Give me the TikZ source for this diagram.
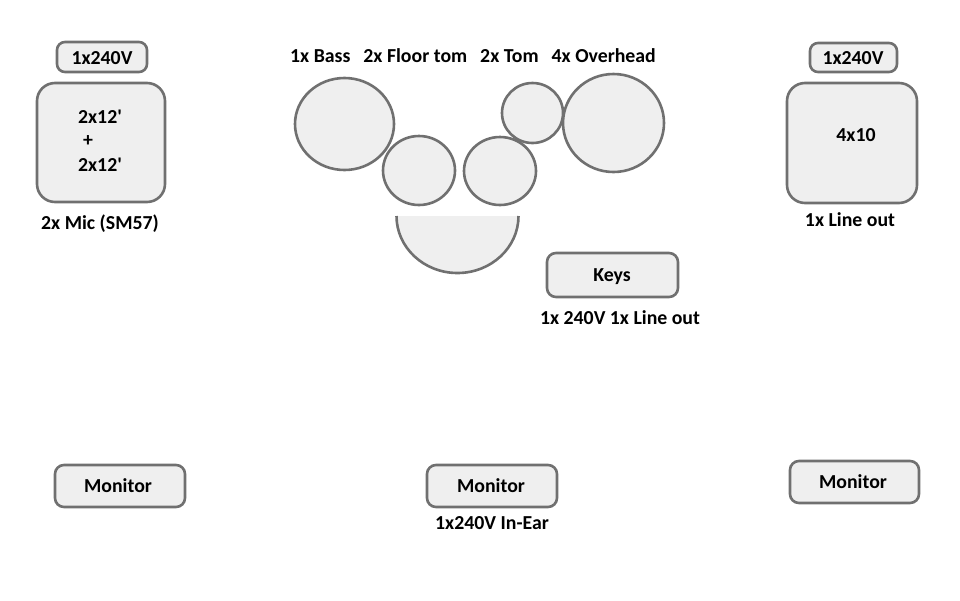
\documentclass[tikz,border=0pt]{standalone}
\usepackage{fontspec}
\setmainfont{Carlito}
\usetikzlibrary{shapes.geometric}
\definecolor{edge}{HTML}{707070}
\definecolor{fillc}{HTML}{EFEFEF}
\tikzset{
  box/.style={draw=edge, line width=2.6pt, fill=fillc, rounded corners=#1},
  box/.default=9pt,
  drum/.style={draw=edge, line width=2.6pt, fill=fillc, ellipse, inner sep=0pt},
  lbl/.style={font=\fontsize{19.8}{22}\selectfont\bfseries, inner sep=0pt, text=black}
}
\begin{document}
\begin{tikzpicture}[x=1pt,y=-1pt]
\useasboundingbox (0,0) rectangle (960,600);
% left amp
\draw[box=8pt] (57,42) rectangle (147,72);
\node[lbl] (lpow) at (102,58) {1x240V};
\draw[box=18pt] (37,83) rectangle (165,202);
\node[lbl] (l1) at (100,117) {2x12\textquotesingle};
\node[lbl] (l2) at (88,141) {+};
\node[lbl] (l3) at (100,165) {2x12\textquotesingle};
\node[lbl] (lmic) at (100,224) {2x Mic (SM57)};
% drums
\node[lbl] (drumlbl) at (473,56) {1x Bass\hspace{13pt}2x Floor tom\hspace{13pt}2x Tom\hspace{13pt}4x Overhead};
\node[drum, minimum width=99pt, minimum height=92pt] (bass) at (344.5,124) {};
\node[drum, minimum width=72pt, minimum height=69pt] (floor) at (419,170.5) {};
\node[drum, minimum width=72pt, minimum height=68pt] (tom) at (500,171) {};
\node[drum, minimum width=61pt, minimum height=60pt] (tom2) at (532.5,113) {};
\node[drum, minimum width=101pt, minimum height=98pt] (over) at (613.5,123) {};
\fill[fillc] (396.5,216) arc[start angle=180, end angle=360, x radius=61, y radius=-57] -- cycle;
\draw[draw=edge, line width=2.6pt] (396.5,216) arc[start angle=180, end angle=360, x radius=61, y radius=-57];
% keys
\draw[box=9pt] (547,253) rectangle (678,297);
\node[lbl] (keys) at (612,277) {Keys};
\node[lbl] (keyslbl) at (620,318) {1x 240V 1x Line out};
% right amp
\draw[box=8pt] (810,43) rectangle (897,72);
\node[lbl] (rpow) at (853,58) {1x240V};
\draw[box=18pt] (787,83) rectangle (917,203);
\node[lbl] (r1) at (856,135) {4x10};
\node[lbl] (rline) at (850,220) {1x Line out};
% monitors
\draw[box=9pt] (55,465) rectangle (185,507);
\node[lbl] (m1) at (118,486) {Monitor};
\draw[box=9pt] (427,465) rectangle (557,507);
\node[lbl] (m2) at (491,486) {Monitor};
\node[lbl] (m2lbl) at (492,523) {1x240V In-Ear};
\draw[box=9pt] (790,461) rectangle (919,503);
\node[lbl] (m3) at (853,482) {Monitor};
\end{tikzpicture}
\end{document}
